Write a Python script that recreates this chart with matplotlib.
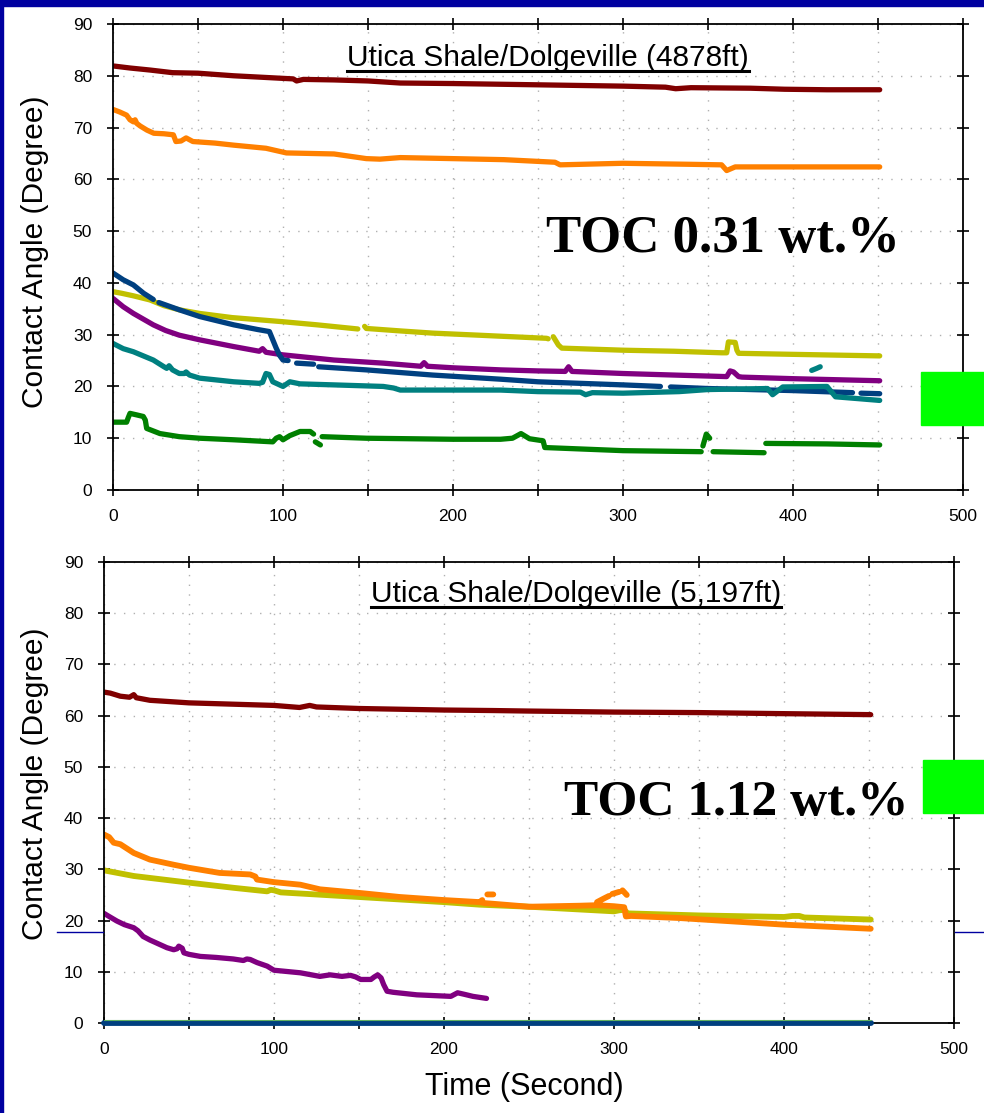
import numpy as np
import matplotlib
matplotlib.use('Agg')
import matplotlib.pyplot as plt
from matplotlib.ticker import MultipleLocator
from matplotlib.lines import Line2D
from matplotlib.patches import Rectangle
from matplotlib.transforms import IdentityTransform

plt.rcParams['font.family'] = ['Liberation Sans', 'DejaVu Sans']

NAN = np.nan
NAVY = '#0000a0'

# ---- top chart: Utica Shale/Dolgeville (4878ft) ----
top_darkred_x = [0, 10, 22, 35, 50, 71, 100, 106, 108, 112, 130, 150, 169, 200, 241, 280, 300, 325, 331, 340, 375, 395, 420, 451]
top_darkred_y = [81.9, 81.5, 81.1, 80.6, 80.5, 80.0, 79.5, 79.4, 79.0, 79.3, 79.2, 79.0, 78.6, 78.5, 78.3, 78.1, 78.0, 77.8, 77.5, 77.7, 77.6, 77.4, 77.3, 77.3]

top_orange_x = [0, 4, 8, 10, 12, 13, 14, 16, 20, 24, 30, 35.5, 37, 40, 43, 47, 60, 71, 90, 102, 130, 149, 157, 169, 200, 230, 260, 263, 300, 340, 358, 361, 366, 400, 451]
top_orange_y = [73.5, 73.0, 72.4, 71.5, 71.1, 71.5, 70.8, 70.3, 69.5, 68.9, 68.8, 68.6, 67.3, 67.4, 68.0, 67.3, 67.0, 66.6, 66.0, 65.1, 64.9, 64.0, 63.9, 64.2, 64.0, 63.8, 63.3, 62.8, 63.1, 62.9, 62.8, 61.7, 62.4, 62.4, 62.4]

top_yellow_x = [0, 5, 12, 21.8, 30, 39, 51, 70, 100, 120, 141, 144, NAN, 148, 149, 170, 188, 215, 228, 255, 256, NAN,
                259, 262, 264, 300, 330, 358, 361, 362, 366, 367, 368, 400, 451]
top_yellow_y = [38.3, 38.0, 37.5, 36.7, 35.6, 34.8, 34.1, 33.3, 32.5, 31.9, 31.2, 31.1, NAN, 31.6, 31.2, 30.7, 30.3, 29.9, 29.7, 29.3, 29.2, NAN,
                29.6, 28.0, 27.4, 27.0, 26.8, 26.5, 26.5, 28.6, 28.5, 27.0, 26.4, 26.2, 25.9]

top_blue_x = [0, 6, 12, 18, 23.7, NAN, 27, 39, 51, 71, 85, 92, 94, 96, 98, 100, 103, NAN, 108, 118, NAN,
              121, 149, 188, 228, 250, 300, 322, NAN, 328, 350, 400, 435, NAN, 440, 451]
top_blue_y = [41.9, 40.6, 39.6, 38.0, 36.8, NAN, 36.2, 34.8, 33.5, 31.9, 31.0, 30.6, 29.0, 27.4, 26.0, 25.1, 25.0, NAN, 24.5, 24.3, NAN,
              23.8, 23.2, 22.2, 21.4, 20.9, 20.3, 20.0, NAN, 19.9, 19.6, 19.2, 18.8, NAN, 18.7, 18.6]

top_purple_x = [0, 6, 12, 23.7, 31, 39, 51, 71, 86, 88, 90, 100, 130, 159, 181, 183, 185, 200, 228, 250, 266, 268, 270,
                300, 330, 361, 363, 365, 368, 370, 400, 451]
top_purple_y = [37.0, 35.4, 34.1, 31.9, 30.8, 29.9, 29.0, 27.7, 26.8, 27.3, 26.6, 26.1, 25.1, 24.5, 23.9, 24.6, 23.9, 23.6, 23.2, 23.0, 22.9, 23.8, 22.9,
                22.5, 22.2, 21.9, 23.0, 22.8, 21.9, 21.8, 21.5, 21.1]

top_teal_x = [0, 6, 12, 23.7, 30, 31.6, 33, 35, 39, 42, 43, 45, 51, 71, 86, 88, 90, 92, 94, 100, 104, 110, 130, 159, 165, 169,
              200, 228, 250, 275, 278, 282, 300, 333, 350, 385, 388, 394, 420, 425, 440, 451, NAN, 411, 414, 416]
top_teal_y = [28.3, 27.3, 26.7, 25.1, 23.8, 23.5, 24.0, 23.2, 22.5, 22.5, 22.8, 22.2, 21.6, 20.9, 20.6, 20.8, 22.5, 22.3, 20.9, 20.0, 20.9, 20.5, 20.3, 20.0, 19.7, 19.3,
              19.3, 19.3, 19.0, 18.9, 18.4, 18.8, 18.7, 19.0, 19.4, 19.6, 18.4, 19.9, 20.0, 18.0, 17.6, 17.3, NAN, 23.1, 23.5, 23.8]

top_green_x = [0, 8, 9, 10, 14, 17.8, 19, 19.8, 27.6, 39, 51, 71, 94, 96, 98, 100, 104, 110, 116, 118, NAN, 119, 122, NAN,
               123, 149, 200, 228, 235, 240, 245, 253, 254, 300, 346, NAN, 347, 349, 351, NAN, 353, 383, NAN, 384, 420, 451]
top_green_y = [13.1, 13.1, 14.0, 14.8, 14.5, 14.2, 13.5, 11.9, 10.9, 10.3, 10.0, 9.7, 9.3, 10.0, 10.3, 9.7, 10.5, 11.3, 11.3, 10.8, NAN, 9.3, 8.7, NAN,
               10.3, 10.0, 9.8, 9.8, 10.0, 10.9, 9.9, 9.5, 8.2, 7.6, 7.4, NAN, 8.5, 10.8, 10.0, NAN, 7.4, 7.2, NAN, 9.0, 8.9, 8.7]

# ---- bottom chart: Utica Shale/Dolgeville (5,197ft) ----
bot_darkred_x = [0, 3.7, 9.6, 15, 17.5, 19, 27, 50, 100, 115, 121, 125, 150, 200, 229, 250, 300, 350, 398, 451]
bot_darkred_y = [64.6, 64.4, 63.8, 63.6, 64.1, 63.5, 63.0, 62.5, 62.0, 61.6, 62.0, 61.7, 61.4, 61.1, 61.0, 60.9, 60.7, 60.6, 60.4, 60.2]

bot_orange_x = [0, 3, 5.7, 9.6, 17.5, 27, 41, 50, 68, 86, 89, 90, 100, 115.5, 127, 150, 174, 200, 221, 224, 228,
                250, 280, 290, 300, 306, 307, 310, 338, 400, 451,
                NAN, 222, 222.5, NAN, 225.5, 229, NAN, 290, 294, 297, NAN, 299, 303, NAN, 305, 307.5]
bot_orange_y = [36.8, 36.3, 35.2, 34.9, 33.2, 31.9, 30.9, 30.3, 29.3, 29.0, 28.6, 28.0, 27.5, 27.0, 26.1, 25.4, 24.6, 24.0, 23.6, 23.4, 23.3,
                22.7, 22.9, 23.0, 22.8, 22.6, 20.8, 20.9, 20.5, 19.2, 18.4,
                NAN, 23.9, 24.0, NAN, 25.1, 25.1, NAN, 23.6, 24.3, 24.8, NAN, 25.2, 25.6, NAN, 25.9, 25.0]

bot_yellow_x = [0, 17.5, 50, 76, 96, 98, 100, 104, 150, 200, 221, 250, 300, 303, 306, 308, 350, 400, 405, 409, 412, 451]
bot_yellow_y = [29.8, 28.7, 27.4, 26.4, 25.7, 26.0, 25.9, 25.5, 24.6, 23.6, 23.1, 22.7, 21.8, 22.0, 22.1, 21.4, 21.0, 20.7, 20.9, 20.9, 20.6, 20.2]

bot_purple_x = [0, 3, 7.6, 12, 17.5, 20, 23, 27, 31, 37, 41, 43, 44, 46, 47, 50, 56.7, 66, 76, 82, 84, 86, 90, 96, 100,
                115.5, 127, 133, 140, 145, 148, 151, 157, 159, 161, 163, 164.5, 166.5, 170, 184, 204, 208, 212, 217, 225]
bot_purple_y = [21.4, 20.8, 19.9, 19.2, 18.6, 18.0, 16.9, 16.2, 15.6, 14.7, 14.3, 14.5, 15.0, 14.6, 13.7, 13.4, 13.0, 12.8, 12.5, 12.2, 12.5, 12.4, 11.8, 11.1, 10.3,
                9.8, 9.1, 9.4, 9.1, 9.3, 9.0, 8.5, 8.5, 9.0, 9.4, 8.8, 7.5, 6.2, 6.0, 5.5, 5.2, 5.9, 5.6, 5.2, 4.8]

bot_green_x = [0, 451]
bot_green_y = [0.55, 0.55]
bot_blue_x = [0, 451]
bot_blue_y = [0, 0]

COLORS = {
    'darkred': '#800000',
    'orange': '#ff8000',
    'yellow': '#c0c000',
    'blue': '#004080',
    'purple': '#800080',
    'teal': '#008080',
    'green': '#008000',
}


def style_axes(ax):
    ax.set_xlim(0, 500)
    ax.set_ylim(0, 90)
    ax.xaxis.set_major_locator(MultipleLocator(100))
    ax.xaxis.set_minor_locator(MultipleLocator(50))
    ax.yaxis.set_major_locator(MultipleLocator(10))
    ax.tick_params(which='both', direction='inout', length=8, width=1.2,
                   top=True, right=True, colors='black')
    ax.tick_params(axis='x', labelsize=12.5, pad=10)
    ax.tick_params(axis='y', labelsize=12.5, pad=11)
    ax.grid(which='both', axis='x', linestyle=(0, (1, 6)), color='#b0b0b0', linewidth=1.0)
    ax.grid(which='major', axis='y', linestyle=(0, (1, 6)), color='#b0b0b0', linewidth=1.0)
    ax.set_axisbelow(True)
    for spine in ax.spines.values():
        spine.set_linewidth(1.3)
    ax.set_ylabel('Contact Angle (Degree)', fontsize=21.5)


def plot_series(ax, x, y, color, lw=3.8, **kw):
    ax.plot(x, y, color=color, linewidth=lw, solid_capstyle='round', solid_joinstyle='round', **kw)


fig = plt.figure(figsize=(9.84, 11.13), dpi=100)
W, H = 984.0, 1113.0

ax_top = fig.add_axes([113 / W, 1 - 490 / H, 850 / W, 466 / H])
ax_bot = fig.add_axes([104 / W, 1 - 1023 / H, 850 / W, 461 / H])
style_axes(ax_top)
style_axes(ax_bot)
ax_top.yaxis.set_label_coords((49 - 113) / 850, 0.511)
ax_bot.yaxis.set_label_coords((49 - 104) / 850, 0.518)

plot_series(ax_top, top_darkred_x, top_darkred_y, COLORS['darkred'])
plot_series(ax_top, top_orange_x, top_orange_y, COLORS['orange'])
plot_series(ax_top, top_yellow_x, top_yellow_y, COLORS['yellow'])
plot_series(ax_top, top_purple_x, top_purple_y, COLORS['purple'])
plot_series(ax_top, top_blue_x, top_blue_y, COLORS['blue'])
plot_series(ax_top, top_teal_x, top_teal_y, COLORS['teal'])
plot_series(ax_top, top_green_x, top_green_y, COLORS['green'])

plot_series(ax_bot, bot_darkred_x, bot_darkred_y, COLORS['darkred'])
plot_series(ax_bot, bot_yellow_x, bot_yellow_y, COLORS['yellow'], lw=4.2)
plot_series(ax_bot, bot_orange_x, bot_orange_y, COLORS['orange'], lw=4.2)
plot_series(ax_bot, bot_purple_x, bot_purple_y, COLORS['purple'])
# flat zero series drawn over the bottom spine
plot_series(ax_bot, bot_blue_x, bot_blue_y, '#003f7f', lw=4.2, zorder=3, clip_on=False)
plot_series(ax_bot, bot_green_x, bot_green_y, '#60b060', lw=0.8, zorder=3.1, clip_on=False)

titles = [
    ax_top.text(256, 81.9, 'Utica Shale/Dolgeville (4878ft)', ha='center', va='baseline', fontsize=21.5),
    ax_bot.text(277.6, 82.1, 'Utica Shale/Dolgeville (5,197ft)', ha='center', va='baseline', fontsize=21.5),
]
ax_top.text(359, 46, 'TOC 0.31 wt.%', ha='center', va='baseline', fontsize=38,
            family='Liberation Serif', weight='bold', clip_on=False)
ax_bot.text(372, 40.6, 'TOC 1.12 wt.%', ha='center', va='baseline', fontsize=37,
            family='Liberation Serif', weight='bold', clip_on=False)

fig.text(524 / W, 1 - 1095 / H, 'Time (Second)', ha='center', va='baseline', fontsize=22)

# navy slide frame, stray connector lines and green markers
fig.add_artist(Rectangle((0, 1 - 6 / H), 1, 6 / H, transform=fig.transFigure, color=NAVY, zorder=5))
fig.add_artist(Rectangle((0, 0), 3 / W, 1, transform=fig.transFigure, color=NAVY, zorder=5))
fig.add_artist(Line2D([57 / W, 103 / W], [1 - 932 / H] * 2, transform=fig.transFigure, color=NAVY, lw=1))
fig.add_artist(Line2D([955 / W, 1.0], [1 - 932 / H] * 2, transform=fig.transFigure, color=NAVY, lw=1))
fig.add_artist(Rectangle((921 / W, 1 - 425 / H), 63 / W, 53 / H, transform=fig.transFigure, color='#00ff00', zorder=6))
fig.add_artist(Rectangle((923 / W, 1 - 813 / H), 61 / W, 53 / H, transform=fig.transFigure, color='#00ff00', zorder=6))

# underline the chart titles
fig.canvas.draw()
renderer = fig.canvas.get_renderer()
for t in titles:
    bb = t.get_window_extent(renderer)
    base = t.get_transform().transform(t.get_position())[1]
    fig.add_artist(Line2D([bb.x0, bb.x1], [base - 5, base - 5], transform=IdentityTransform(),
                          color='black', lw=2.2))

fig.savefig('out.png', dpi=100, facecolor='white')
